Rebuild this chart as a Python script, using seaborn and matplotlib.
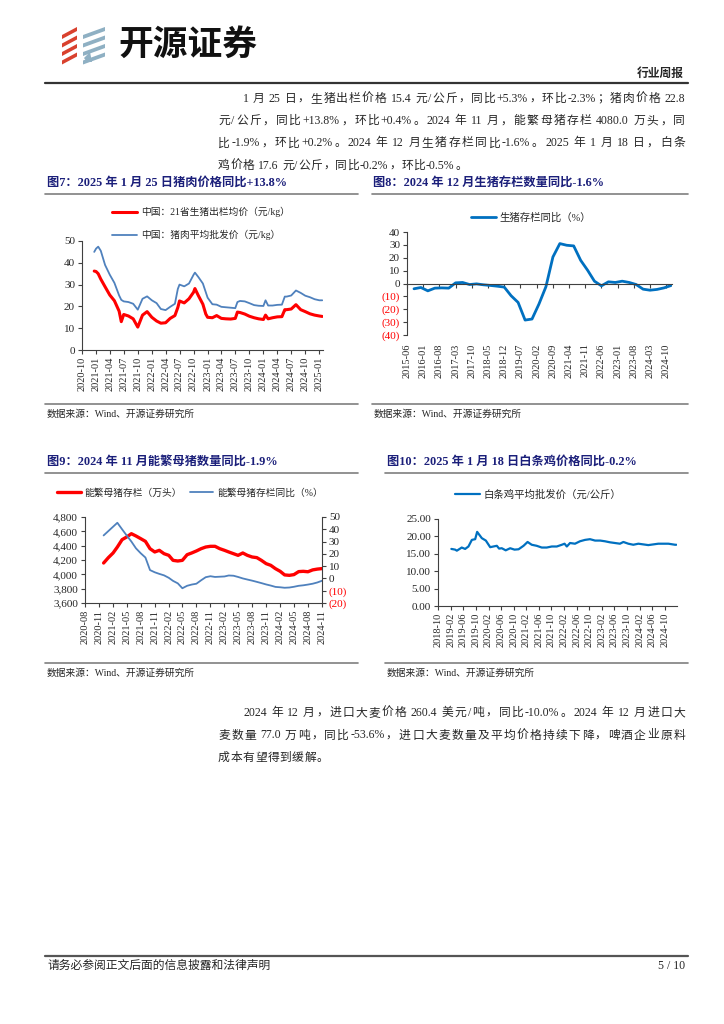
import matplotlib
matplotlib.use('Agg')
import matplotlib.pyplot as plt
from matplotlib.lines import Line2D
from matplotlib.patches import Polygon
import pandas as pd
import seaborn as sns

sns.set_style('ticks')
SERIF = ['Liberation Serif', 'Noto Sans CJK SC', 'DejaVu Sans']
CJK = ['Noto Sans CJK SC', 'DejaVu Sans']
plt.rcParams['font.family'] = SERIF
plt.rcParams['axes.unicode_minus'] = False

# ---------------- data ----------------
# fig 7: hog price / pork wholesale price (yuan/kg)
pork_dates = ['2020-12-20', '2021-01-01', '2021-01-15', '2021-02-01', '2021-03-01', '2021-04-01',
              '2021-05-01', '2021-06-01', '2021-06-15', '2021-07-01', '2021-08-01', '2021-09-01',
              '2021-10-01', '2021-11-01', '2021-12-01', '2022-01-01', '2022-02-01', '2022-03-01',
              '2022-04-01', '2022-05-01', '2022-06-01', '2022-06-20', '2022-07-01', '2022-08-01',
              '2022-09-01', '2022-10-01', '2022-10-10', '2022-11-01', '2022-12-01', '2022-12-20',
              '2023-01-01', '2023-02-01', '2023-03-01', '2023-04-01', '2023-05-01', '2023-06-01',
              '2023-07-01', '2023-07-15', '2023-08-01', '2023-09-01', '2023-10-01', '2023-11-01',
              '2023-12-01', '2024-01-01', '2024-01-15', '2024-02-01', '2024-03-01', '2024-04-01',
              '2024-05-01', '2024-05-20', '2024-06-01', '2024-07-01', '2024-08-01', '2024-09-01',
              '2024-10-01', '2024-11-01', '2024-12-01', '2025-01-01', '2025-01-20']
hog_price = [36.2, 36.0, 35.0, 32.5, 29.0, 25.2, 22.6, 17.8, 13.0, 16.3,
             15.6, 14.3, 10.5, 16.0, 17.6, 15.0, 13.3, 12.3, 12.5, 14.5,
             15.8, 19.5, 22.5, 21.6, 23.5, 26.5, 28.2, 25.0, 21.0, 16.5,
             15.0, 14.8, 15.8, 14.5, 14.3, 14.2, 14.5, 17.4, 17.2, 16.5,
             15.5, 14.8, 14.3, 14.0, 16.0, 14.3, 14.8, 15.2, 15.3, 18.5,
             18.5, 18.8, 20.8, 18.5, 17.6, 16.6, 16.0, 15.6, 15.4]
pork_wholesale = [45.0, 46.5, 47.4, 45.5, 39.0, 34.5, 30.8, 25.0, 23.0, 22.3,
                  22.0, 21.2, 18.5, 23.5, 24.6, 22.8, 21.5, 18.8, 18.3, 19.8,
                  21.2, 28.0, 30.0, 29.2, 30.5, 34.5, 35.5, 33.5, 30.5, 26.5,
                  24.0, 21.0, 20.8, 19.8, 19.6, 19.4, 19.2, 22.0, 22.5, 22.3,
                  21.5, 20.6, 20.3, 20.2, 22.8, 20.4, 20.4, 20.7, 20.8, 24.5,
                  24.5, 25.0, 27.3, 26.2, 24.9, 24.2, 23.3, 22.8, 22.8]
ticks7 = ['2020-10', '2021-01', '2021-04', '2021-07', '2021-10', '2022-01', '2022-04', '2022-07',
          '2022-10', '2023-01', '2023-04', '2023-07', '2023-10', '2024-01', '2024-04', '2024-07',
          '2024-10', '2025-01']

# fig 8: hog inventory yoy (%), quarterly 2015-09 .. 2024-12
stock_dates = pd.date_range('2015-09-01', '2024-12-01', freq='3MS')
hog_stock_yoy = [-4.1, -3.1, -5.7, -3.6, -3.4, -3.6, 0.5, 0.8, -0.8, -0.3,
                 -1.0, -1.5, -2.1, -2.8, -9.5, -14.7, -28.4, -27.6, -16.0, -2.5,
                 20.6, 31.0, 29.7, 29.2, 18.0, 10.3, 1.8, -1.8, 1.3, 0.8,
                 1.8, 0.8, -0.8, -4.4, -5.2, -4.6, -3.4, -1.6]
ticks8 = ['2015-06', '2016-01', '2016-08', '2017-03', '2017-10', '2018-05', '2018-12', '2019-07',
          '2020-02', '2020-09', '2021-04', '2021-11', '2022-06', '2023-01', '2023-08', '2024-03',
          '2024-10']

# fig 9: breeding sow inventory (10k head) and yoy (%)
sow_dates = pd.date_range('2020-12-01', '2024-11-01', freq='MS')
sow_stock = [4158, 4233, 4298, 4381, 4484, 4521, 4567, 4535, 4498, 4460,
             4358, 4312, 4335, 4288, 4265, 4195, 4186, 4195, 4274, 4298,
             4326, 4358, 4381, 4391, 4391, 4358, 4335, 4312, 4288, 4265,
             4298, 4265, 4242, 4233, 4195, 4149, 4126, 4079, 4042, 3992,
             3986, 3996, 4038, 4042, 4036, 4062, 4073, 4080]
sow_yoy_dates = ['2020-12-01'] + [d.strftime('%Y-%m-%d') for d in pd.date_range('2021-03-01', '2024-11-01', freq='MS')]
sow_yoy = [35.0, 45.3, 40.0, 35.0, 30.0, 24.5, 20.5, 17.0, 6.8, 5.0, 3.7,
           2.5, 0.5, -2.0, -4.0, -8.0, -6.0, -5.0, -4.3, -1.5, 1.0, 1.8, 1.2,
           1.4, 1.6, 2.4, 2.2, 1.2, 0.0, -0.9, -1.8, -2.8, -3.8, -4.9, -5.8,
           -6.9, -7.2, -7.6, -7.4, -6.8, -6.0, -5.6, -5.0, -4.3, -3.3, -1.9]
ticks9 = ['2020-08', '2020-11', '2021-02', '2021-05', '2021-08', '2021-11', '2022-02', '2022-05',
          '2022-08', '2022-11', '2023-02', '2023-05', '2023-08', '2023-11', '2024-02', '2024-05',
          '2024-08', '2024-11']

# fig 10: broiler wholesale price (yuan/kg)
chicken_dates = ['2019-02-07', '2019-03-15', '2019-04-01', '2019-05-03', '2019-05-18', '2019-06-20',
                 '2019-07-22', '2019-08-24', '2019-09-25', '2019-10-14', '2019-11-03', '2019-11-28',
                 '2020-01-06', '2020-02-17', '2020-03-19', '2020-04-21', '2020-05-13', '2020-06-08',
                 '2020-07-16', '2020-08-28', '2020-10-09', '2020-11-17', '2021-01-04', '2021-02-12',
                 '2021-03-24', '2021-05-11', '2021-06-29', '2021-08-16', '2021-10-04', '2021-11-21',
                 '2022-01-09', '2022-02-04', '2022-02-26', '2022-03-29', '2022-05-16', '2022-07-03',
                 '2022-08-21', '2022-10-08', '2022-11-26', '2023-01-14', '2023-03-01', '2023-04-19',
                 '2023-06-06', '2023-07-24', '2023-08-26', '2023-10-13', '2023-11-30', '2024-01-18',
                 '2024-03-06', '2024-04-23', '2024-06-10', '2024-07-28', '2024-09-15', '2024-11-03',
                 '2025-01-06', '2025-01-18']
chicken_price = [16.4, 16.2, 15.9, 16.5, 16.8, 16.4, 17.1, 19.0, 19.2, 21.3,
                 20.5, 19.5, 18.8, 16.9, 17.1, 17.3, 16.5, 16.6, 16.0, 16.6,
                 16.2, 16.3, 17.3, 18.4, 17.6, 17.3, 16.8, 16.8, 17.1, 17.1,
                 17.6, 17.9, 17.1, 18.1, 17.9, 18.6, 19.0, 19.2, 18.8, 18.8,
                 18.6, 18.3, 18.1, 17.9, 18.4, 17.9, 17.6, 17.9, 17.7, 17.5,
                 17.7, 17.9, 17.9, 17.9, 17.6, 17.6]
ticks10 = ['2018-10', '2019-02', '2019-06', '2019-10', '2020-02', '2020-06', '2020-10', '2021-02',
           '2021-06', '2021-10', '2022-02', '2022-06', '2022-10', '2023-02', '2023-06', '2023-10',
           '2024-02', '2024-06', '2024-10']

para1 = ['1 月 25 日，生猪出栏价格 15.4 元/公斤，同比+5.3%，环比-2.3%；猪肉价格 22.8',
         '元/公斤，同比+13.8%，环比+0.4%。2024 年 11 月，能繁母猪存栏 4080.0 万头，同',
         '比-1.9%，环比+0.2%。2024 年 12 月生猪存栏同比-1.6%。2025 年 1 月 18 日，白条',
         '鸡价格 17.6 元/公斤，同比-0.2%，环比-0.5%。']
para2 = ['2024 年 12 月，进口大麦价格 260.4 美元/吨，同比-10.0%。2024 年 12 月进口大',
         '麦数量 77.0 万吨，同比-53.6%，进口大麦数量及平均价格持续下降，啤酒企业原料',
         '成本有望得到缓解。']

# ---------------- page ----------------
W, H = 724, 1024
fig = plt.figure(figsize=(W / 100, H / 100), dpi=100)
renderer = fig.canvas.get_renderer()
NAVY = '#1b1f7a'
RED = '#FF0000'


def fx(px):
    return px / W


def fy(py):
    return 1 - py / H


def hline(x0, x1, y, color='#7f7f7f', lw=1.2):
    fig.add_artist(Line2D([fx(x0), fx(x1)], [fy(y), fy(y)], transform=fig.transFigure, color=color, lw=lw))


def box(x0, y0, x1, y1):
    return fig.add_axes([fx(x0), fy(y1), (x1 - x0) / W, (y1 - y0) / H])


def tokens_of(line):
    toks, cur, sp = [], '', False
    for ch in line:
        if ch == ' ':
            if cur:
                toks.append((cur, sp))
                cur = ''
            sp = True
        elif ord(ch) > 0x2e80:
            if cur:
                toks.append((cur, sp))
                cur = ''
                sp = False
            toks.append((ch, sp))
            sp = False
        else:
            cur += ch
    if cur:
        toks.append((cur, sp))
    return toks


def put_line(line, x0, x1, y, size=8.5, justify=True):
    # y is the line centre; text is drawn on a common baseline
    arts = []
    for t, sp in tokens_of(line):
        fam = CJK if ord(t[0]) > 0x2e80 else SERIF
        a = fig.text(0, fy(y + 4), t, fontsize=size, va='baseline', ha='left', family=fam)
        arts.append((a, sp, a.get_window_extent(renderer).width))
    space = size * 100 / 72 * 0.25
    base = sum(w for _, _, w in arts) + sum(space for _, sp, _ in arts[1:] if sp)
    extra = (x1 - x0 - base) / (len(arts) - 1) if justify else 0.6
    x = x0
    for i, (a, sp, w) in enumerate(arts):
        if i:
            x += extra + (space if sp else 0)
        a.set_x(fx(x))
        x += w


def paragraph(lines, y0, step):
    for i, line in enumerate(lines):
        x0 = 243 if i == 0 else 218
        put_line(line, x0, 685, y0 + i * step, justify=(i < len(lines) - 1))


# header / logo
for i in range(4):
    yb = 27 + i * 8.5
    fig.add_artist(Polygon([(fx(62), fy(yb + 8)), (fx(77), fy(yb)), (fx(77), fy(yb + 4)), (fx(62), fy(yb + 12))],
                           closed=True, transform=fig.transFigure, color='#d9412e', lw=0))
    fig.add_artist(Polygon([(fx(83), fy(yb + 8)), (fx(105), fy(yb)), (fx(105), fy(yb + 4)), (fx(83), fy(yb + 12))],
                           closed=True, transform=fig.transFigure, color='#8fb0c3', lw=0))
fig.add_artist(Polygon([(fx(84), fy(58)), (fx(90), fy(52)), (fx(92), fy(62)), (fx(87), fy(62))],
                       closed=True, transform=fig.transFigure, color='#8fb0c3', lw=0))
fig.text(fx(118), fy(44), '开源证券', fontsize=25, fontweight='bold', family=['Noto Sans CJK SC'],
         va='center', ha='left', color='#111111')
fig.text(fx(684), fy(74), '行业周报', fontsize=8.5, fontweight='bold', va='center', ha='right')
hline(45, 688, 83, color='#333333', lw=1.6)

paragraph(para1, 98, 22.2)

# figure titles
fig.text(fx(47), fy(183), '图7：2025 年 1 月 25 日猪肉价格同比+13.8%', fontsize=8.8, fontweight='bold', color=NAVY, va='center')
fig.text(fx(373), fy(183), '图8：2024 年 12 月生猪存栏数量同比-1.6%', fontsize=8.8, fontweight='bold', color=NAVY, va='center')
hline(45, 358, 194)
hline(372, 688, 194)
fig.text(fx(47), fy(462), '图9：2024 年 11 月能繁母猪数量同比-1.9%', fontsize=8.8, fontweight='bold', color=NAVY, va='center')
fig.text(fx(387), fy(462), '图10：2025 年 1 月 18 日白条鸡价格同比-0.2%', fontsize=8.8, fontweight='bold', color=NAVY, va='center')
hline(45, 358, 473)
hline(385, 688, 473)

# sources
for x0, x1, y in [(45, 358, 404), (372, 688, 404), (45, 358, 663), (385, 688, 663)]:
    hline(x0, x1, y)
    fig.text(fx(x0 + 2), fy(y + 10), '数据来源：Wind、开源证券研究所', fontsize=7, va='center')


def style(ax, xt, xlim):
    ax.set_xlim(pd.to_datetime(xlim[0]), pd.to_datetime(xlim[1]))
    ax.set_xticks(pd.to_datetime(xt))
    ax.set_xticklabels(xt, rotation=90, fontsize=7.5)
    ax.tick_params(axis='both', direction='out', length=3, width=0.8, color='#404040', pad=2)
    ax.tick_params(axis='y', labelsize=8)
    for s in ['top', 'right']:
        ax.spines[s].set_visible(False)
    for s in ['left', 'bottom']:
        ax.spines[s].set_color('#404040')
        ax.spines[s].set_linewidth(0.8)
    ax.set_xlabel('')
    ax.set_ylabel('')
    ax.set_facecolor('none')


def paren(v):
    return f'({abs(v)})' if v < 0 else str(v)


# ---- chart 7 ----
ax7 = box(82, 241, 323, 350)
sns.lineplot(x=pd.to_datetime(pork_dates), y=hog_price, ax=ax7, color=RED, linewidth=2.2, legend=False)
sns.lineplot(x=pd.to_datetime(pork_dates), y=pork_wholesale, ax=ax7, color='#4f81bd', linewidth=1.3, legend=False)
ax7.set_ylim(0, 50)
ax7.set_yticks(range(0, 51, 10))
style(ax7, ticks7, ('2020-10-01', '2025-01-25'))
fig.legend(ax7.get_lines(), ['中国：21省生猪出栏均价（元/kg）', '中国：猪肉平均批发价（元/kg）'],
           loc='center', bbox_to_anchor=(fx(201), fy(223.5)), frameon=False, prop={'family': SERIF, 'size': 7},
           handlelength=2.6, handletextpad=0.4, labelspacing=1.3)

# ---- chart 8 ----
ax8 = box(407, 232, 672, 335)
sns.lineplot(x=stock_dates, y=hog_stock_yoy, ax=ax8, color='#0070c0', linewidth=2.0, legend=False)
ax8.spines['bottom'].set_position(('data', 0))
ax8.set_ylim(-40, 40)
yt8 = list(range(40, -41, -10))
ax8.set_yticks(yt8)
style(ax8, ticks8, ('2015-06-01', '2024-12-15'))
ax8.set_yticklabels([paren(v) for v in yt8])
for lab, v in zip(ax8.get_yticklabels(), yt8):
    if v < 0:
        lab.set_color(RED)
ax8.tick_params(axis='x', pad=0.5 * 103 * 0.72 + 3)
fig.legend(ax8.get_lines(), ['生猪存栏同比（%）'], loc='center', bbox_to_anchor=(fx(531), fy(218)),
           frameon=False, prop={'family': SERIF, 'size': 7.5}, handlelength=2.4, handletextpad=0.4)

# ---- chart 9 ----
ax9 = box(85, 517, 322, 603)
sns.lineplot(x=sow_dates, y=sow_stock, ax=ax9, color=RED, linewidth=2.4, legend=False)
ax9.set_ylim(3600, 4800)
yt9 = list(range(3600, 4801, 200))
ax9.set_yticks(yt9)
ax9.set_yticklabels([f'{v:,}' for v in yt9])
style(ax9, ticks9, ('2020-08-01', '2024-11-01'))
ax9r = ax9.twinx()
sns.lineplot(x=pd.to_datetime(sow_yoy_dates), y=sow_yoy, ax=ax9r, color='#4f81bd', linewidth=1.3, legend=False)
ax9r.set_ylim(-20, 50)
yt9r = list(range(-20, 51, 10))
ax9r.set_yticks(yt9r)
ax9r.set_yticklabels([paren(v) for v in yt9r])
for lab, v in zip(ax9r.get_yticklabels(), yt9r):
    if v < 0:
        lab.set_color(RED)
ax9r.tick_params(axis='y', direction='out', length=3, width=0.8, color='#404040', pad=2, labelsize=8)
for s in ['top', 'left', 'bottom']:
    ax9r.spines[s].set_visible(False)
ax9r.spines['right'].set_color('#404040')
ax9r.spines['right'].set_linewidth(0.8)
ax9r.set_ylabel('')
fig.legend([ax9.get_lines()[0], ax9r.get_lines()[0]], ['能繁母猪存栏（万头）', '能繁母猪存栏同比（%）'],
           loc='center', bbox_to_anchor=(fx(190), fy(493)), ncol=2, frameon=False,
           prop={'family': SERIF, 'size': 7}, handlelength=2.4, handletextpad=0.4, columnspacing=0.8)

# ---- chart 10 ----
ax10 = box(438, 519, 677, 606)
sns.lineplot(x=pd.to_datetime(chicken_dates), y=chicken_price, ax=ax10, color='#0070c0', linewidth=1.6, legend=False)
ax10.set_ylim(0, 25)
yt10 = [0, 5, 10, 15, 20, 25]
ax10.set_yticks(yt10)
ax10.set_yticklabels([f'{v:.2f}' for v in yt10])
style(ax10, ticks10, ('2018-10-01', '2025-01-25'))
fig.legend(ax10.get_lines(), ['白条鸡平均批发价（元/公斤）'], loc='center', bbox_to_anchor=(fx(538), fy(495)),
           frameon=False, prop={'family': SERIF, 'size': 7.5}, handlelength=2.4, handletextpad=0.4)

paragraph(para2, 712, 22.5)

# footer
hline(45, 688, 956, color='#555555', lw=1.6)
fig.text(fx(47), fy(966), '请务必参阅正文后面的信息披露和法律声明', fontsize=8.5, va='center')
fig.text(fx(685), fy(966), '5 / 10', fontsize=8.5, va='center', ha='right')

fig.savefig('out.png', dpi=100)
